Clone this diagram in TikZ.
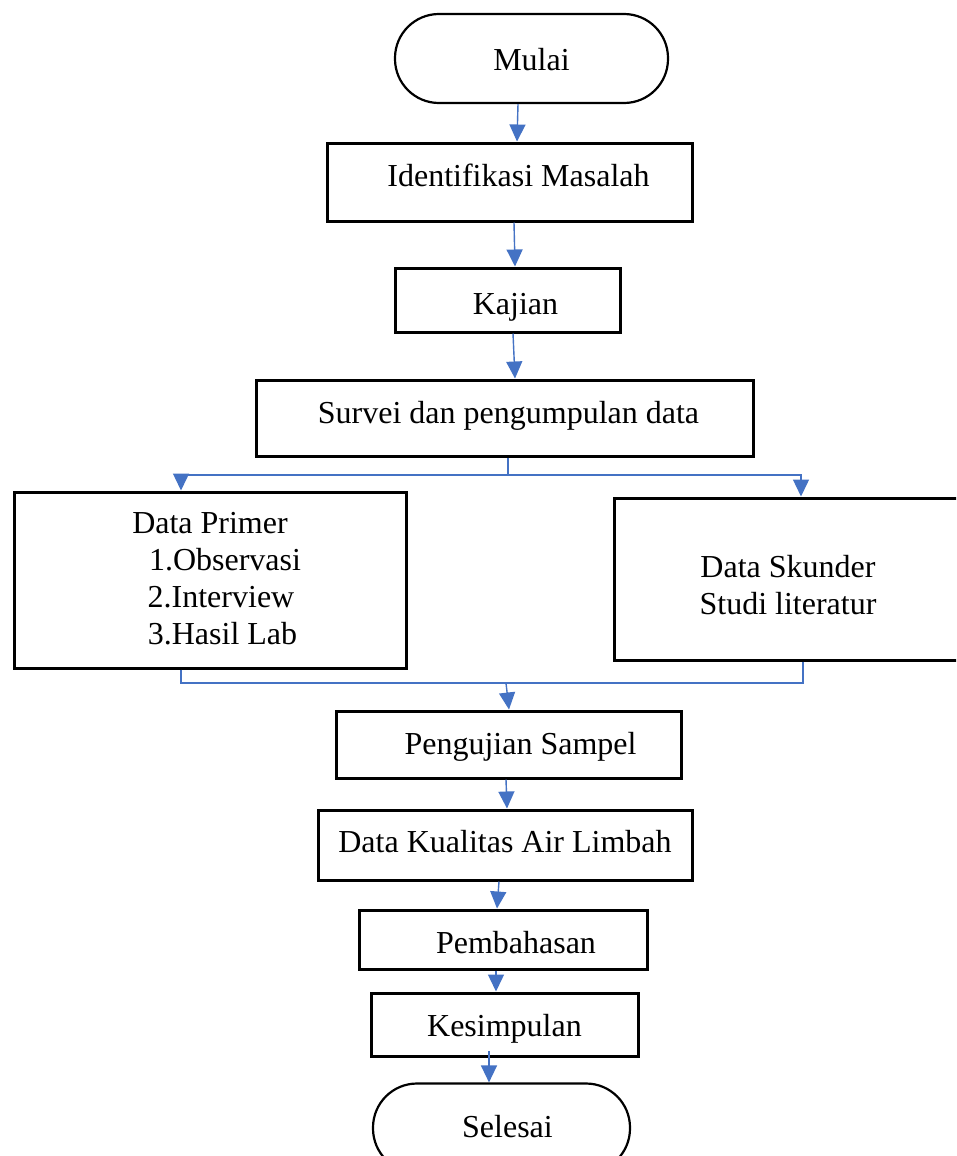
\documentclass[tikz,border=0pt]{standalone}
\usepackage{fontspec}
\setmainfont{Liberation Serif}
\usetikzlibrary{arrows.meta,calc}
\definecolor{linkblue}{HTML}{4472C4}
\newcommand{\offtxt}[3]{\raisebox{#2}[0pt][0pt]{\hspace*{#1}#3\hspace*{-#1}}}
\begin{document}
\begin{tikzpicture}[x=1pt,y=-1pt,
  box/.style={draw=black,line width=3pt,inner sep=0pt,
    font=\fontsize{32}{37}\selectfont},
  term/.style={draw=black,line width=2.2pt,inner sep=0pt,rounded corners=44pt,
    font=\fontsize{32}{37}\selectfont},
  link/.style={draw=linkblue,line width=1.4pt},
  conn/.style={link,-{Triangle[width=16pt,length=17pt]},color=linkblue}]
\clip (0,0) rectangle (956,1156);
\fill[white] (0,0) rectangle (956,1156);

\node[term,minimum width=273pt,minimum height=89pt] (mulai) at (531.5,58.5) {\offtxt{0pt}{-12pt}{Mulai}};
\node[box,minimum width=365pt,minimum height=78pt] (ident) at (509.5,182) {\offtxt{9pt}{-4.8pt}{Identifikasi Masalah}};
\node[box,minimum width=225pt,minimum height=64pt] (kajian) at (507.5,300) {\offtxt{8pt}{-14.5pt}{Kajian}};
\node[box,minimum width=497pt,minimum height=76pt] (survei) at (504.5,418) {\offtxt{4pt}{-5pt}{Survei dan pengumpulan data}};
\node[box,minimum width=392pt,minimum height=176pt] (dp) at (210,580)
  {\raisebox{46.3pt}[0pt][0pt]{\begin{tabular}[t]{@{}c@{}}Data Primer\\\hspace*{30pt}1.Observasi\\\hspace*{22pt}2.Interview\\\hspace*{25pt}3.Hasil Lab\end{tabular}}};
\node[box,minimum width=348pt,minimum height=162pt] (ds) at (788,579)
  {\raisebox{2pt}[0pt][0pt]{\begin{tabular}[t]{@{}c@{}}Data Skunder\\Studi literatur\end{tabular}}};
\node[box,minimum width=345pt,minimum height=67pt] (peng) at (508.5,744.5) {\offtxt{12pt}{-9.7pt}{Pengujian Sampel}};
\node[box,minimum width=374pt,minimum height=70pt] (dka) at (505,845) {\offtxt{0pt}{-7.5pt}{Data Kualitas Air Limbah}};
\node[box,minimum width=288pt,minimum height=59pt] (pemb) at (503,939.5) {\offtxt{13pt}{-13.7pt}{Pembahasan}};
\node[box,minimum width=267pt,minimum height=63pt] (kes) at (504.5,1024.5) {\offtxt{0pt}{-12pt}{Kesimpulan}};
\node[term,minimum width=257pt,minimum height=89pt] (selesai) at (501.5,1128) {\offtxt{6pt}{-9.5pt}{Selesai}};

\draw[conn] (518,0 |- mulai.south) -- (517,0 |- ident.north);
\draw[conn] (514,0 |- ident.south) -- (515,0 |- kajian.north);
\draw[conn] (513,0 |- kajian.south) -- (515,0 |- survei.north);

\coordinate (split) at (508,475);
\draw[link] (508,0 |- survei.south) -- (split);
\draw[conn] (split) -| (181,0 |- dp.north);
\draw[conn] (split) -| (801,0 |- ds.north);

\coordinate (merge) at (506,683);
\draw[link] (181,0 |- dp.south) |- (merge);
\draw[link] (803,0 |- ds.south) |- (merge);
\draw[conn] (merge) -- (509,0 |- peng.north);

\draw[conn] (506,0 |- peng.south) -- (507,0 |- dka.north);
\draw[conn] (499,0 |- dka.south) -- (497,0 |- pemb.north);
\draw[conn] (496,0 |- pemb.south) -- (496,0 |- kes.north);
\draw[conn] (489,1051) -- (489,0 |- selesai.north);
\end{tikzpicture}
\end{document}
